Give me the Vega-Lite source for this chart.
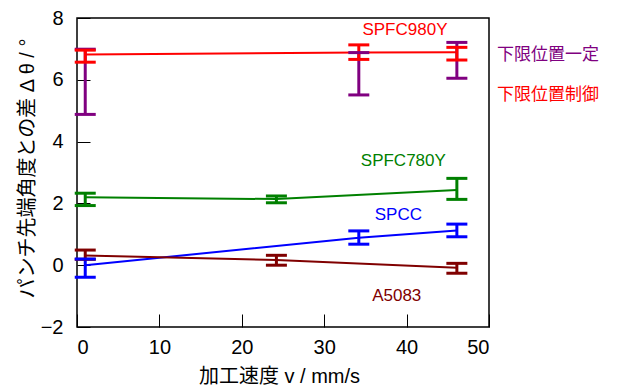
{
  "$schema": "https://vega.github.io/schema/vega-lite/v6.json",
  "width": 412,
  "height": 309,
  "autosize": {"type": "none"},
  "padding": {"left": 77, "top": 18, "right": 132, "bottom": 60},
  "background": "white",
  "config": {
    "view": {"stroke": "#000", "strokeWidth": 1.5},
    "font": "Liberation Sans, Noto Sans CJK JP",
    "axis": {
      "domain": false,
      "grid": false,
      "ticks": true,
      "tickColor": "#000",
      "tickWidth": 1,
      "tickSize": -13,
      "labelFont": "Liberation Sans",
      "labelFontSize": 20,
      "labelColor": "#000",
      "titleFont": "Liberation Sans, Noto Sans CJK JP",
      "titleFontSize": 20,
      "titleFontWeight": "normal",
      "titleColor": "#000"
    }
  },
  "datasets": {
    "bars": [
      {"series": "SPFC980Y 下限位置一定", "v": 1, "lo": 4.88, "hi": 6.99},
      {"series": "SPFC980Y 下限位置一定", "v": 34.2, "lo": 5.51, "hi": 6.88},
      {"series": "SPFC980Y 下限位置一定", "v": 46.1, "lo": 6.05, "hi": 7.21},
      {"series": "SPFC980Y", "v": 1, "lo": 6.57, "hi": 6.96, "mid": 6.82},
      {"series": "SPFC980Y", "v": 34.2, "lo": 6.66, "hi": 7.13, "mid": 6.88},
      {"series": "SPFC980Y", "v": 46.1, "lo": 6.64, "hi": 7.05, "mid": 6.89},
      {"series": "SPFC780Y", "v": 1, "lo": 1.93, "hi": 2.33, "mid": 2.2},
      {"series": "SPFC780Y", "v": 24.2, "lo": 2.02, "hi": 2.24, "mid": 2.14},
      {"series": "SPFC780Y", "v": 46.1, "lo": 2.13, "hi": 2.81, "mid": 2.43},
      {"series": "SPCC", "v": 1, "lo": -0.39, "hi": 0.2, "mid": 0.0},
      {"series": "SPCC", "v": 34.2, "lo": 0.68, "hi": 1.11, "mid": 0.89},
      {"series": "SPCC", "v": 46.1, "lo": 0.92, "hi": 1.33, "mid": 1.12},
      {"series": "A5083", "v": 1, "lo": 0.19, "hi": 0.49, "mid": 0.31},
      {"series": "A5083", "v": 24.2, "lo": 0.0, "hi": 0.32, "mid": 0.17},
      {"series": "A5083", "v": 46.1, "lo": -0.26, "hi": 0.06, "mid": -0.08}
    ],
    "labels": [
      {"series": "SPFC980Y", "text": "SPFC980Y", "v": 39.8, "y": 7.61},
      {"series": "SPFC780Y", "text": "SPFC780Y", "v": 39.6, "y": 3.38},
      {"series": "SPCC", "text": "SPCC", "v": 39.0, "y": 1.62},
      {"series": "A5083", "text": "A5083", "v": 38.8, "y": -1.0}
    ],
    "notes": [
      {"series": "SPFC980Y 下限位置一定", "text": "下限位置一定", "v": 50.97, "y": 6.8},
      {"series": "SPFC980Y", "text": "下限位置制御", "v": 50.97, "y": 5.51}
    ]
  },
  "encoding": {
    "x": {
      "field": "v",
      "type": "quantitative",
      "scale": {"domain": [0, 50], "nice": false, "zero": false},
      "axis": {
        "values": [0, 10, 20, 30, 40, 50],
        "title": "加工速度 v / mm/s",
        "labelPadding": 23,
        "titleX": 202,
        "titleY": 49,
        "titleBaseline": "middle",
        "titleAnchor": null
      }
    },
    "color": {
      "field": "series",
      "type": "nominal",
      "scale": {
        "domain": ["SPFC980Y 下限位置一定", "SPFC980Y", "SPFC780Y", "SPCC", "A5083"],
        "range": ["#800080", "#ff0000", "#008000", "#0000ff", "#800000"]
      },
      "legend": null
    }
  },
  "layer": [
    {
      "data": {"name": "bars"},
      "transform": [{"filter": "isValid(datum.mid)"}],
      "mark": {"type": "line", "strokeWidth": 2},
      "encoding": {
        "y": {
          "field": "mid",
          "type": "quantitative",
          "scale": {"domain": [-2, 8], "nice": false, "zero": false},
          "axis": {
            "values": [-2, 0, 2, 4, 6, 8],
            "title": "パンチ先端角度との差 Δ θ / °",
            "labelPadding": 27,
            "titleAngle": -90,
            "titleX": -50,
            "titleY": 150,
            "titleAlign": "center",
            "titleBaseline": "middle",
            "titleAnchor": null
          }
        }
      }
    },
    {
      "data": {"name": "bars"},
      "mark": {"type": "rule", "strokeWidth": 3},
      "encoding": {
        "y": {"field": "lo", "type": "quantitative"},
        "y2": {"field": "hi"}
      }
    },
    {
      "data": {"name": "bars"},
      "mark": {"type": "tick", "orient": "horizontal", "size": 21, "thickness": 3, "opacity": 1},
      "encoding": {
        "y": {"field": "lo", "type": "quantitative"}
      }
    },
    {
      "data": {"name": "bars"},
      "mark": {"type": "tick", "orient": "horizontal", "size": 21, "thickness": 3, "opacity": 1},
      "encoding": {
        "y": {"field": "hi", "type": "quantitative"}
      }
    },
    {
      "data": {"name": "labels"},
      "mark": {"type": "text", "font": "Liberation Sans", "fontSize": 17, "align": "center", "baseline": "middle"},
      "encoding": {
        "y": {"field": "y", "type": "quantitative"},
        "text": {"field": "text"}
      }
    },
    {
      "data": {"name": "notes"},
      "mark": {"type": "text", "font": "Noto Sans CJK JP", "fontSize": 17, "align": "left", "baseline": "middle"},
      "encoding": {
        "y": {"field": "y", "type": "quantitative"},
        "text": {"field": "text"}
      }
    }
  ]
}
